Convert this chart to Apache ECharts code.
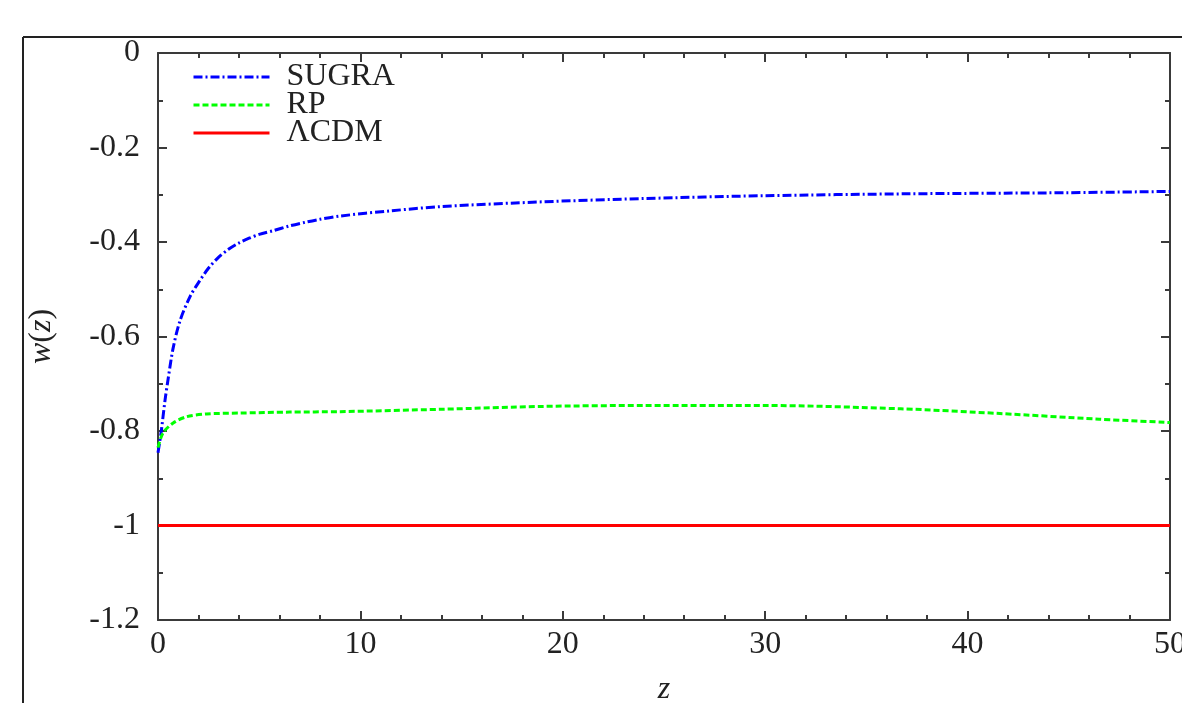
<!DOCTYPE html>
<html>
<head>
<meta charset="utf-8">
<script src="https://cdn.jsdelivr.net/npm/echarts@6/dist/echarts.min.js"></script>
<style>
html,body{margin:0;padding:0;background:#fff;overflow:hidden;}
#chart{width:1182px;height:703px;}
</style>
</head>
<body>
<div id="chart"></div>
<script>
// ---- data ----
const seriesNames = ["SUGRA", "RP", "\u039BCDM"];

const sugraZ = [0, 0.15, 0.35, 0.5, 0.75, 1.1, 1.6, 2.0, 2.5, 3.0, 3.5, 4.0, 4.5, 5.0, 5.7, 6.5, 7.3, 8.0, 9, 11.5, 14, 19, 24, 30, 37, 44, 50];
const sugraW = [-0.846, -0.804, -0.734, -0.69, -0.624, -0.565, -0.514, -0.486, -0.455, -0.432, -0.415, -0.402, -0.392, -0.384, -0.376, -0.366, -0.358, -0.352, -0.345, -0.334, -0.325, -0.315, -0.308, -0.302, -0.298, -0.296, -0.293];

const rpZ = [0, 0.25, 0.75, 1.4, 2.4, 4, 6.5, 9, 14, 19, 24, 30, 36.7, 41.6, 46.5, 50];
const rpW = [-0.835, -0.804, -0.783, -0.770, -0.764, -0.762, -0.760, -0.759, -0.754, -0.748, -0.746, -0.746, -0.753, -0.763, -0.775, -0.782];

const lcdmZ = [0, 50];
const lcdmW = [-1, -1];

const xTicks = {min: 0, max: 50, step: 10};
const yTicks = {min: -1.2, max: 0, step: 0.2};

const pairs = (xs, ys) => xs.map((x, i) => [x, ys[i]]);

const FONT = "Liberation Serif";
const AX = "#3a3a3a";
const FS = 32;

const axisCommonX = {
  type: 'value', min: xTicks.min, max: xTicks.max, interval: xTicks.step,
  axisLine: {show: true, onZero: false, lineStyle: {color: AX, width: 2}},
  axisTick: {show: true, inside: true, length: 9, lineStyle: {color: AX, width: 2}},
  minorTick: {show: true, splitNumber: 5, length: 5, lineStyle: {color: AX, width: 2}},
  splitLine: {show: false}, minorSplitLine: {show: false}
};
const axisCommonY = {
  type: 'value', min: yTicks.min, max: yTicks.max, interval: yTicks.step,
  axisLine: {show: true, onZero: false, lineStyle: {color: AX, width: 2}},
  axisTick: {show: true, inside: true, length: 9, lineStyle: {color: AX, width: 2}},
  minorTick: {show: true, splitNumber: 2, length: 5, lineStyle: {color: AX, width: 2}},
  splitLine: {show: false}, minorSplitLine: {show: false}
};

const chart = echarts.init(document.getElementById('chart'), null, {renderer: 'canvas', width: 1182, height: 703});
chart.setOption({
  backgroundColor: '#ffffff',
  animation: false,
  grid: {left: 158, right: 12, top: 53, bottom: 83, containLabel: false, outerBoundsMode: 'none'},
  legend: {
    left: 187, top: 56, orient: 'vertical',
    itemWidth: 76, itemHeight: 14, itemGap: -4,
    itemStyle: {opacity: 0},
    lineStyle: {width: 3},
    textStyle: {fontFamily: FONT, fontSize: FS, color: '#222', lineHeight: 28, padding: [0, 0, 0, 12]},
    data: seriesNames
  },
  xAxis: [
    Object.assign({}, axisCommonX, {
      position: 'bottom',
      name: 'z', nameLocation: 'middle', nameGap: 54,
      nameTextStyle: {fontFamily: FONT, fontSize: FS, fontStyle: 'italic', color: '#222'},
      axisLabel: {show: true, margin: 9, fontFamily: FONT, fontSize: FS, color: '#222'}
    }),
    Object.assign({}, axisCommonX, {position: 'top', axisLabel: {show: false}})
  ],
  yAxis: [
    Object.assign({}, axisCommonY, {
      position: 'left',
      name: '{i|w}{n|(}{i|z}{n|)}', nameLocation: 'middle', nameGap: 100,
      nameTextStyle: {
        fontFamily: FONT, fontSize: FS, color: '#222',
        rich: {
          i: {fontFamily: FONT, fontSize: FS, fontStyle: 'italic', color: '#222'},
          n: {fontFamily: FONT, fontSize: FS, color: '#222'}
        }
      },
      axisLabel: {show: true, margin: 18, fontFamily: FONT, fontSize: FS, color: '#222'}
    }),
    Object.assign({}, axisCommonY, {position: 'right', axisLabel: {show: false}})
  ],
  series: [
    {
      name: seriesNames[0], type: 'line', xAxisIndex: 0, yAxisIndex: 0,
      data: pairs(sugraZ, sugraW), smooth: 0.3, showSymbol: false, symbol: 'none',
      lineStyle: {color: '#0000ff', width: 3, type: [9, 3, 2, 3]},
      itemStyle: {color: '#0000ff'}
    },
    {
      name: seriesNames[1], type: 'line', xAxisIndex: 0, yAxisIndex: 0,
      data: pairs(rpZ, rpW), smooth: 0.3, showSymbol: false, symbol: 'none',
      lineStyle: {color: '#00ff00', width: 3, type: [6, 3]},
      itemStyle: {color: '#00ff00'}
    },
    {
      name: seriesNames[2], type: 'line', xAxisIndex: 0, yAxisIndex: 0,
      data: pairs(lcdmZ, lcdmW), showSymbol: false, symbol: 'none',
      lineStyle: {color: '#ff0000', width: 3, type: 'solid'},
      itemStyle: {color: '#ff0000'}
    }
  ],
  graphic: [
    {type: 'line', shape: {x1: 23, y1: 37, x2: 23, y2: 703}, style: {stroke: '#222', lineWidth: 2}, silent: true},
    {type: 'line', shape: {x1: 23, y1: 37, x2: 1182, y2: 37}, style: {stroke: '#222', lineWidth: 2}, silent: true}
  ]
});
</script>
</body>
</html>
